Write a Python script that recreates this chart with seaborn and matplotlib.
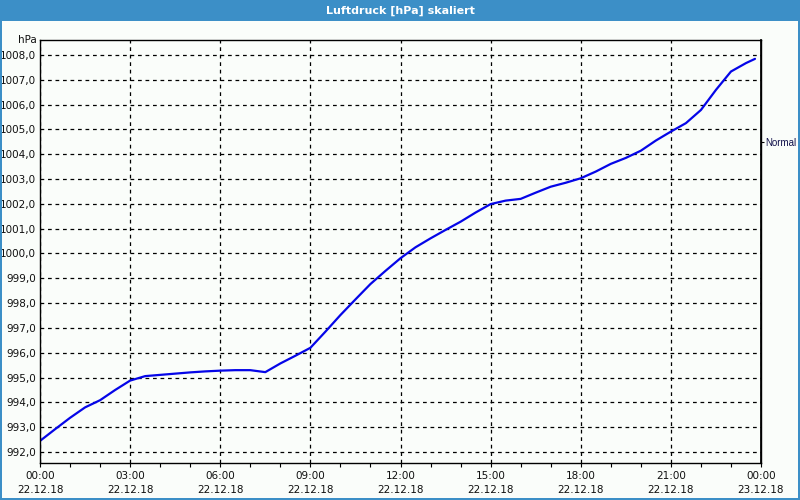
import matplotlib
matplotlib.use("Agg")
import matplotlib.pyplot as plt
import matplotlib.patches as mpatches
import numpy as np
import pandas as pd
import seaborn as sns

# --- data (hours since 22.12.18 00:00, pressure in hPa) ---
hours = [0, 0.5, 1, 1.5, 2, 2.5, 3, 3.5, 4, 4.5, 5, 5.5, 6, 6.5, 7, 7.5, 8, 8.5,
         9, 9.5, 10, 10.5, 11, 11.5, 12, 12.5, 13, 13.5, 14, 14.5, 15, 15.5, 16,
         16.5, 17, 17.5, 18, 18.5, 19, 19.5, 20, 20.5, 21, 21.5, 22, 22.5, 23,
         23.5, 23.8]
pressure = [992.45, 992.92, 993.38, 993.80, 994.09, 994.50, 994.88, 995.06, 995.11,
            995.16, 995.21, 995.25, 995.28, 995.30, 995.30, 995.22, 995.57, 995.88,
            996.20, 996.85, 997.52, 998.15, 998.77, 999.30, 999.81, 1000.25,
            1000.61, 1000.95, 1001.28, 1001.65, 1001.99, 1002.13, 1002.20, 1002.45,
            1002.69, 1002.85, 1003.03, 1003.30, 1003.61, 1003.85, 1004.14, 1004.55,
            1004.91, 1005.25, 1005.78, 1006.59, 1007.33, 1007.67, 1007.84]
x_tick_hours = [0, 3, 6, 9, 12, 15, 18, 21, 24]
x_tick_labels = ["00:00\n22.12.18", "03:00\n22.12.18", "06:00\n22.12.18",
                 "09:00\n22.12.18", "12:00\n22.12.18", "15:00\n22.12.18",
                 "18:00\n22.12.18", "21:00\n22.12.18", "00:00\n23.12.18"]
y_ticks = list(range(992, 1009))
y_tick_labels = [f"{v},0" for v in y_ticks]
title = "Luftdruck [hPa] skaliert"
unit = "hPa"
normal_level = 1004.5

df = pd.DataFrame({"h": hours, "p": pressure})

sns.set_theme(style="white")
plt.rcParams["font.family"] = ["DejaVu Sans"]

bg = "#fafdfa"
blue_bar = "#3c8fc7"
txt = "#101010"
fig = plt.figure(figsize=(8, 5), dpi=100, facecolor=bg)
ax = fig.add_axes([0.05, 0.074, 0.90125, 0.846])
ax.set_facecolor(bg)

sns.lineplot(data=df, x="h", y="p", ax=ax, color="#0505e8", linewidth=1.6)

ax.set_xlim(0, 24)
ax.set_ylim(991.56, 1008.6)
ax.set_xticks(x_tick_hours)
ax.set_xticklabels(x_tick_labels, fontsize=7.5, linespacing=1.45, color=txt)
ax.set_xticks(np.arange(0, 25, 1), minor=True)
ax.set_yticks(y_ticks)
ax.set_yticklabels(y_tick_labels, fontsize=7.5, color=txt)
ax.set_xlabel("")
ax.set_ylabel("")
ax.grid(True, which="major", color="black", linestyle=(0, (3, 3)), linewidth=0.9)
ax.tick_params(axis="x", which="both", direction="out", length=3, width=0.8,
               color="black", bottom=True, pad=3)
ax.tick_params(axis="y", which="both", length=0, pad=3)
for s in ax.spines.values():
    s.set_color("black")
    s.set_linewidth(1.0)

ax.text(-0.005, 1.0, unit, transform=ax.transAxes, ha="right", va="center",
        fontsize=7.5, color=txt)

sec = ax.secondary_yaxis("right")
sec.set_yticks([normal_level])
sec.set_yticklabels(["Normal"], fontsize=7.0, color="#10104a",
                    family=["Liberation Sans", "DejaVu Sans"])
sec.tick_params(length=2.2, width=0.8, color="black", pad=0.5)
sec.spines["right"].set_color("black")

# title bar and window border
fig.patches.append(mpatches.Rectangle((0, 0.958), 1, 0.042, transform=fig.transFigure,
                                      facecolor=blue_bar, edgecolor="none", zorder=0))
fig.text(0.5, 0.979, title, color="white", ha="center", va="center",
         fontsize=8, fontweight="bold")
for rect in [(0, 0, 0.003, 1), (0.998, 0, 0.002, 1), (0, 0, 1, 0.005)]:
    fig.patches.append(mpatches.Rectangle(rect[:2], rect[2], rect[3],
                                          transform=fig.transFigure,
                                          facecolor=blue_bar, edgecolor="none"))

fig.savefig("out.png", dpi=100, facecolor=bg)
